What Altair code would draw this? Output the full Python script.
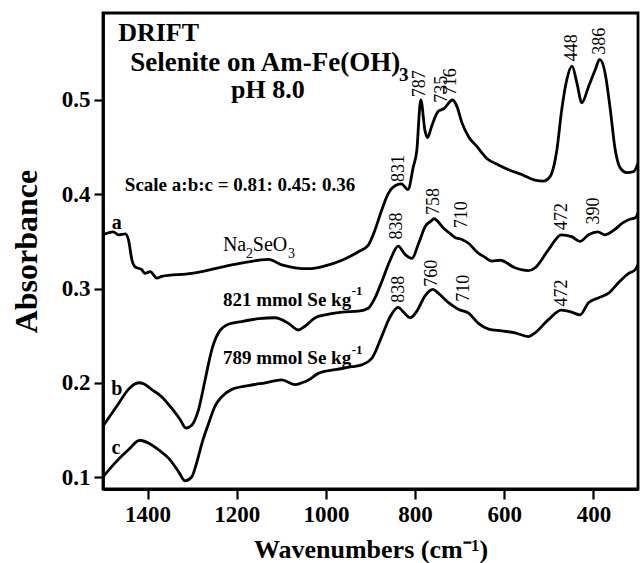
import altair as alt
import pandas as pd

# --- spectra (wavenumber in cm-1, absorbance) ---
wn_a = [1500, 1477, 1465, 1450, 1443, 1435, 1428, 1413, 1406, 1394, 1379, 1368, 1301, 1241,
        1211, 1151, 1129, 1099, 1069, 1039, 1002, 964, 927, 905, 890, 875, 860, 845, 831, 816,
        804, 796, 789, 787, 778, 772, 763, 748, 735, 716, 706, 695, 680, 662, 639, 613, 590,
        561, 531, 512, 497, 482, 471, 460, 448, 437, 426, 411, 396, 386, 374, 363, 351, 340,
        325, 310, 300]
abs_a = [0.357, 0.360, 0.357, 0.358, 0.352, 0.330, 0.323, 0.320, 0.316, 0.318, 0.311, 0.313,
         0.316, 0.322, 0.325, 0.330, 0.331, 0.325, 0.322, 0.321, 0.324, 0.330, 0.339, 0.346,
         0.362, 0.383, 0.401, 0.409, 0.411, 0.405, 0.429, 0.447, 0.495, 0.500, 0.468, 0.460,
         0.472, 0.488, 0.491, 0.500, 0.493, 0.476, 0.461, 0.451, 0.438, 0.431, 0.426, 0.421,
         0.415, 0.414, 0.419, 0.447, 0.490, 0.521, 0.536, 0.518, 0.497, 0.514, 0.532, 0.543,
         0.529, 0.493, 0.447, 0.428, 0.423, 0.424, 0.433]

wn_b = [1500, 1465, 1443, 1420, 1409, 1391, 1368, 1346, 1327, 1314, 1301, 1286, 1271, 1256,
        1241, 1219, 1189, 1151, 1114, 1084, 1062, 1047, 1024, 1002, 964, 927, 905, 890, 875,
        856, 838, 822, 807, 792, 777, 763, 758, 736, 718, 710, 695, 680, 662, 643, 628, 609,
        576, 546, 531, 501, 472, 449, 430, 411, 390, 374, 351, 336, 321, 306, 300]
abs_b = [0.154, 0.178, 0.193, 0.200, 0.199, 0.193, 0.185, 0.173, 0.161, 0.152, 0.155, 0.171,
         0.203, 0.235, 0.253, 0.262, 0.265, 0.268, 0.269, 0.263, 0.256, 0.260, 0.269, 0.272,
         0.275, 0.276, 0.279, 0.290, 0.307, 0.330, 0.345, 0.336, 0.332, 0.348, 0.366, 0.372,
         0.374, 0.364, 0.357, 0.354, 0.352, 0.348, 0.339, 0.333, 0.329, 0.330, 0.322, 0.319,
         0.322, 0.341, 0.357, 0.355, 0.350, 0.357, 0.360, 0.357, 0.363, 0.369, 0.373, 0.375,
         0.380]

wn_c = [1500, 1473, 1443, 1417, 1398, 1376, 1353, 1331, 1316, 1301, 1290, 1278, 1263, 1249,
        1234, 1211, 1174, 1136, 1099, 1069, 1054, 1039, 1017, 979, 942, 920, 897, 875, 856,
        838, 826, 811, 796, 778, 760, 748, 725, 710, 703, 680, 658, 635, 606, 576, 546, 531,
        501, 472, 449, 430, 411, 389, 366, 344, 321, 306, 300]
abs_c = [0.100, 0.115, 0.129, 0.139, 0.136, 0.129, 0.120, 0.106, 0.096, 0.100, 0.115, 0.136,
         0.157, 0.175, 0.185, 0.193, 0.197, 0.200, 0.203, 0.198, 0.200, 0.203, 0.210, 0.214,
         0.217, 0.219, 0.226, 0.249, 0.270, 0.280, 0.275, 0.269, 0.276, 0.292, 0.299, 0.295,
         0.285, 0.280, 0.278, 0.274, 0.263, 0.257, 0.255, 0.253, 0.249, 0.253, 0.267, 0.277,
         0.275, 0.272, 0.285, 0.290, 0.295, 0.306, 0.316, 0.320, 0.325]

# --- peak labels: text, anchor wavenumber, anchor absorbance (bottom of rotated text) ---
peak_text = ["831", "787", "735", "716", "448", "386",
             "838", "758", "710", "472", "390",
             "838", "760", "710", "472"]
peak_wn = [836, 789, 740, 720, 449, 385,
           841, 758, 695, 470, 399,
           836, 763, 691, 470]
peak_abs = [0.413, 0.503, 0.497, 0.505, 0.541, 0.548,
            0.352, 0.378, 0.364, 0.362, 0.368,
            0.285, 0.302, 0.286, 0.281]

SERIF = "Liberation Serif"

curves = pd.concat([
    pd.DataFrame({"wavenumber": wn_a, "absorbance": abs_a, "sample": "a"}),
    pd.DataFrame({"wavenumber": wn_b, "absorbance": abs_b, "sample": "b"}),
    pd.DataFrame({"wavenumber": wn_c, "absorbance": abs_c, "sample": "c"}),
], ignore_index=True)

x_scale = alt.Scale(domain=[300, 1500], reverse=True, nice=False, zero=False)
y_scale = alt.Scale(domain=[0.0873, 0.5923], nice=False, zero=False)

axis_style = dict(
    grid=False, labelFont=SERIF, titleFont=SERIF,
    labelFontWeight="bold", titleFontWeight="bold",
    labelColor="black", titleColor="black",
    tickColor="black", tickWidth=2.2, domainColor="black", domainWidth=2.8,
)
x_axis = alt.Axis(
    values=[1400, 1200, 1000, 800, 600, 400], format="d",
    title="Wavenumbers (cm⁻¹)", titleFontSize=26, titlePadding=10,
    labelFontSize=23, labelPadding=4, tickSize=10, **axis_style,
)
y_axis = alt.Axis(
    values=[0.1, 0.2, 0.3, 0.4, 0.5], format=".1f",
    title="Absorbance", titleFontSize=32, titlePadding=18,
    labelFontSize=23, labelPadding=4, tickSize=9, **axis_style,
)


def enc(chart):
    return chart.encode(
        x=alt.X("wavenumber:Q", scale=x_scale, axis=x_axis),
        y=alt.Y("absorbance:Q", scale=y_scale, axis=y_axis),
    )


def text_layer(texts, wns, absorb, **style):
    df = pd.DataFrame({"wavenumber": wns, "absorbance": absorb, "label": texts})
    base = alt.Chart(df).mark_text(font=SERIF, color="black", **style)
    return enc(base).encode(text="label:N")


lines = enc(
    alt.Chart(curves).mark_line(color="black", strokeWidth=2.8, interpolate="monotone")
).encode(detail="sample:N")

headers = text_layer(["DRIFT"], [1466], [0.571],
                     fontSize=26, fontWeight="bold", align="left", baseline="middle")
subtitle = text_layer(["Selenite on Am-Fe(OH)"], [1439], [0.539],
                      fontSize=27, fontWeight="bold", align="left", baseline="middle")
subtitle_sub = text_layer(["3"], [836], [0.526],
                          fontSize=19, fontWeight="bold", align="left", baseline="middle")
ph = text_layer(["pH 8.0"], [1130], [0.511],
                fontSize=26, fontWeight="bold", align="center", baseline="middle")

notes = text_layer(["Scale a:b:c = 0.81: 0.45: 0.36", "821 mmol Se kg", "789 mmol Se kg"],
                   [1451, 1231, 1231], [0.410, 0.288, 0.226],
                   fontSize=19, fontWeight="bold", align="left", baseline="middle")
notes_sup = text_layer(["-1", "-1"], [942, 942], [0.297, 0.235],
                       fontSize=13, fontWeight="bold", align="left", baseline="middle")
curve_ids = text_layer(["a", "b", "c"], [1469, 1469, 1471], [0.370, 0.193, 0.131],
                       fontSize=20, fontWeight="bold", align="center", baseline="middle")

salt = text_layer(["Na", "SeO"], [1231, 1164], [0.346, 0.346],
                  fontSize=20, align="left", baseline="middle")
salt_sub = text_layer(["2", "3"], [1179, 1085], [0.337, 0.337],
                      fontSize=14, align="left", baseline="middle")

peaks = text_layer(peak_text, peak_wn, peak_abs,
                   fontSize=18, angle=270, align="left", baseline="middle")

chart = alt.layer(
    lines, headers, subtitle, subtitle_sub, ph, notes, notes_sup, curve_ids,
    salt, salt_sub, peaks
).properties(
    width=535, height=476,
    padding={"left": 103, "top": 13, "right": 3, "bottom": 74},
    autosize="none",
    background="white",
).configure_view(
    stroke="black", strokeWidth=2.8,
)

chart.save("out.html", embed_options={"renderer": "svg", "actions": False})
